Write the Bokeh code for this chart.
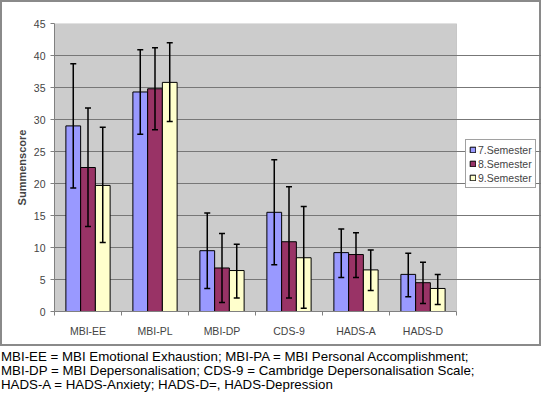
import numpy as np
from bokeh.plotting import figure
from bokeh.layouts import column
from bokeh.models import (ColumnDataSource, Whisker, TeeHead, FixedTicker, Legend,
                          LegendItem, BoxAnnotation, Range1d, Div)
from bokeh.transform import dodge
from bokeh.embed import file_html
from bokeh.resources import INLINE

categories = ["MBI-EE", "MBI-PL", "MBI-DP", "CDS-9", "HADS-A", "HADS-D"]
series = ["7.Semester", "8.Semester", "9.Semester"]
sem7 = [29.0, 34.3, 9.5, 15.5, 9.2, 5.8]
sem8 = [22.5, 34.8, 6.8, 10.9, 8.9, 4.5]
sem9 = [19.7, 35.8, 6.4, 8.4, 6.5, 3.6]
sem7_upper = [38.7, 40.9, 15.4, 23.7, 12.9, 9.1]
sem7_lower = [19.3, 27.7, 3.6, 7.3, 5.3, 2.3]
sem8_upper = [31.8, 41.2, 12.2, 19.5, 12.3, 7.7]
sem8_lower = [13.3, 28.4, 1.4, 2.1, 5.3, 1.25]
sem9_upper = [28.8, 42.0, 10.5, 16.4, 9.6, 5.8]
sem9_lower = [10.8, 29.7, 2.1, 0.5, 3.3, 1.1]
y_ticks = [0, 5, 10, 15, 20, 25, 30, 35, 40, 45]
colors = ["#9999FF", "#993366", "#FFFFCC"]
caption = [
    "MBI-EE = MBI Emotional Exhaustion; MBI-PA = MBI Personal Accomplishment;",
    "MBI-DP = MBI Depersonalisation; CDS-9 = Cambridge Depersonalisation Scale;",
    "HADS-A = HADS-Anxiety; HADS-D=, HADS-Depression",
]

FONT = "Liberation Sans"
n = len(categories)
centers = [i + 0.5 for i in range(n)]

W, H = 541, 346
LEFT, TOP, BOTTOM = 54, 23, 35
PLOT_RIGHT = 456          # right edge of the grey plot area (px)
x_end = n * (W - LEFT) / (PLOT_RIGHT - LEFT)

src = ColumnDataSource(dict(
    x=centers, v7=sem7, v8=sem8, v9=sem9,
    u7=sem7_upper, l7=sem7_lower, u8=sem8_upper, l8=sem8_lower,
    u9=sem9_upper, l9=sem9_lower,
))

p = figure(width=W, height=H, x_range=Range1d(0, x_end), y_range=Range1d(0, 45),
           output_backend="svg", toolbar_location=None,
           min_border_left=LEFT, min_border_right=0, min_border_top=TOP,
           min_border_bottom=BOTTOM)
p.styles = {"outline": "2px solid #8a8a8a", "outline-offset": "-2px",
            "background-color": "white"}
p.background_fill_color = None
p.border_fill_color = None
p.outline_line_color = None

# grey plot area with its frame
p.add_layout(BoxAnnotation(left=0, right=n, bottom=0, top=45, fill_color="#CCCCCC",
                           fill_alpha=1, line_color="#808080", line_width=1,
                           level="image"))

bw = 0.22
offs = [-bw, 0.0, bw]
vals = ["v7", "v8", "v9"]
ups = ["u7", "u8", "u9"]
lows = ["l7", "l8", "l9"]
renderers = []
for k in range(3):
    r = p.vbar(x=dodge("x", offs[k]), top=vals[k], width=bw, bottom=0, source=src,
               fill_color=colors[k], line_color="black", line_width=1)
    renderers.append(r)
for k in range(3):
    w = Whisker(source=src, base=dodge("x", offs[k]), upper=ups[k], lower=lows[k],
                line_color="black", line_width=1.5, level="annotation",
                upper_head=TeeHead(size=6, line_color="black", line_width=1.5),
                lower_head=TeeHead(size=6, line_color="black", line_width=1.5))
    p.add_layout(w)

# axes
p.yaxis.ticker = FixedTicker(ticks=y_ticks)
p.ygrid.ticker = FixedTicker(ticks=y_ticks)
p.ygrid.bounds = (0, n)
p.ygrid.grid_line_color = "#777777"
p.xgrid.grid_line_color = None
p.yaxis.axis_label = "Summenscore"
p.yaxis.axis_label_text_font = FONT
p.yaxis.axis_label_text_font_style = "bold"
p.yaxis.axis_label_text_font_size = "11px"
p.yaxis.axis_label_standoff = 3
p.yaxis.major_label_text_font = FONT
p.yaxis.major_label_text_font_size = "10.5px"
p.yaxis.major_label_standoff = 5
p.yaxis.major_tick_out = 4
p.yaxis.major_tick_in = 0
p.yaxis.minor_tick_line_color = None
p.yaxis.axis_line_color = "#808080"
p.yaxis.major_tick_line_color = "#808080"

p.xaxis.bounds = (0, n)
p.xaxis.ticker = FixedTicker(ticks=centers, minor_ticks=list(range(n + 1)))
p.xaxis.major_label_overrides = {c: lab for c, lab in zip(centers, categories)}
p.xaxis.major_label_text_font = FONT
p.xaxis.major_label_text_font_size = "10.5px"
p.xaxis.major_tick_line_color = None
p.xaxis.major_tick_out = 0
p.xaxis.major_tick_in = 0
p.xaxis.major_label_standoff = 9
p.xaxis.minor_tick_out = 4
p.xaxis.minor_tick_in = 0
p.xaxis.minor_tick_line_color = "#808080"
p.xaxis.axis_line_color = "#808080"

legend = Legend(items=[LegendItem(label=s, renderers=[r]) for s, r in zip(series, renderers)],
                location=(411, 123), label_text_font=FONT, label_text_font_size="10.5px",
                glyph_width=7, glyph_height=7, label_height=13, label_standoff=2,
                spacing=1, padding=3, margin=0, border_line_color="#444444",
                border_line_width=1, background_fill_color="white")
p.add_layout(legend)

# caption below the chart box
cap = Div(text="<br>".join(caption), width=W, height=48, margin=0,
          styles={"font-family": FONT, "font-size": "13.3px", "line-height": "14px",
                  "color": "black", "padding-top": "4px", "padding-left": "1px",
                  "white-space": "nowrap", "box-sizing": "border-box"})

layout = column(p, cap, spacing=0)
open("out.html", "w").write(file_html(layout, INLINE))
